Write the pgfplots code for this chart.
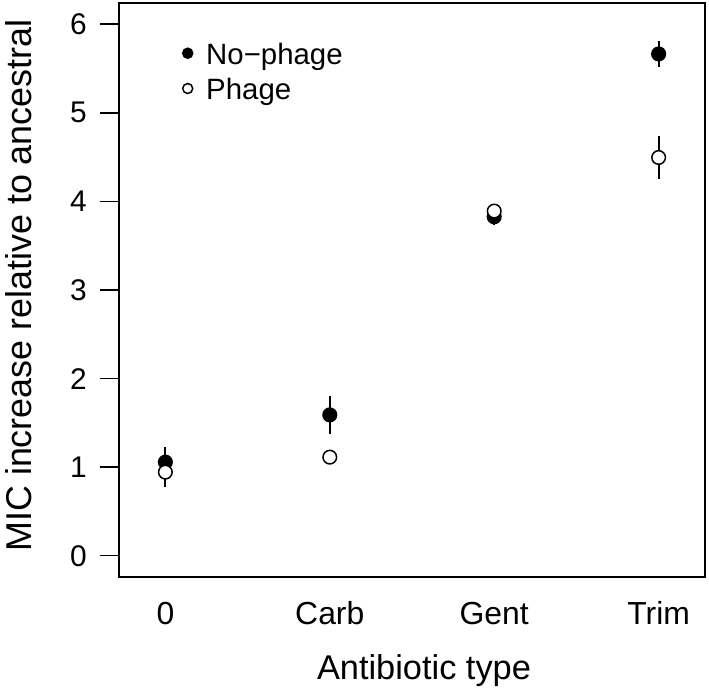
\documentclass[border=0pt]{standalone}
\usepackage{fontspec}
\setmainfont{Liberation Sans}
\usepackage{pgfplots}
\usepackage{pgfplotstable}
\pgfplotsset{compat=1.18}

% mean MIC increase and standard error, per antibiotic (1=0, 2=Carb, 3=Gent, 4=Trim)
\pgfplotstableread{
x y e
1 1.057 0.176
2 1.590 0.217
3 3.827 0.094
4 5.665 0.147
}\nophage
\pgfplotstableread{
x y e
1 0.944 0.169
2 1.113 0.040
3 3.891 0.040
4 4.496 0.240
}\phage

\begin{document}
\begin{tikzpicture}
\path[use as bounding box] (-119bp,-115bp) rectangle (590bp,577bp);
\begin{axis}[
    scale only axis,
    width=586bp, height=574bp,
    xmin=0.718, xmax=4.282,
    ymin=-0.24, ymax=6.24,
    axis line style={line width=1.5bp},
    xtick={1,2,3,4},
    xticklabels={0,Carb,Gent,Trim},
    ytick={0,1,2,3,4,5,6},
    ytick pos=left,
    xtick pos=bottom,
    tick align=outside,
    major tick length=19bp,
    x tick style={draw=none},
    y tick style={line width=1.5bp, black},
    /pgf/number format/assume math mode=true,
    xticklabel style={font=\fontsize{32}{38}\selectfont, anchor=base, yshift=-28bp},
    yticklabel style={font=\fontsize{30}{36}\selectfont, anchor=east, inner sep=0pt, xshift=-13bp},
    xlabel={Antibiotic type},
    ylabel={MIC increase relative to ancestral},
    every axis x label/.style={at={(axis description cs:0.5205,-0.1777)}, anchor=base, font=\fontsize{34.5}{41}\selectfont},
    every axis y label/.style={at={(axis description cs:-0.1485,0.5078)}, rotate=90, anchor=base, font=\fontsize{36}{43}\selectfont},
    legend style={
        at={(axis description cs:0.1084,0.932)}, anchor=north west,
        draw=none, fill=none, inner sep=0pt,
        font=\fontsize{29.5}{35}\selectfont,
        row sep=13.3bp,
        nodes={inner sep=0pt, text height=22bp, text depth=0bp},
        /tikz/every odd column/.style={column sep=13.5bp},
    },
    legend cell align=left,
    legend image code/.code={\draw[#1, mark size=5bp] plot coordinates {(0bp,0bp)};},
]
% error bars first, so that the markers sit on top
\addplot[forget plot, draw=none, mark=none,
    error bars/.cd, y dir=both, y explicit, error mark=none,
    error bar style={draw=black, line width=2bp}]
    table[x=x, y=y, y error=e] {\nophage};
\addplot[forget plot, draw=none, mark=none,
    error bars/.cd, y dir=both, y explicit, error mark=none,
    error bar style={draw=black, line width=2bp}]
    table[x=x, y=y, y error=e] {\phage};

\addplot[only marks, mark=*, mark size=6.8bp,
    mark options={draw=black, fill=black, line width=1.5bp}]
    table[x=x, y=y] {\nophage};
\addlegendentry{No−phage}
\addplot[only marks, mark=*, mark size=6.8bp,
    mark options={draw=black, fill=white, line width=1.5bp}]
    table[x=x, y=y] {\phage};
\addlegendentry{Phage}
\end{axis}
\end{tikzpicture}
\end{document}
